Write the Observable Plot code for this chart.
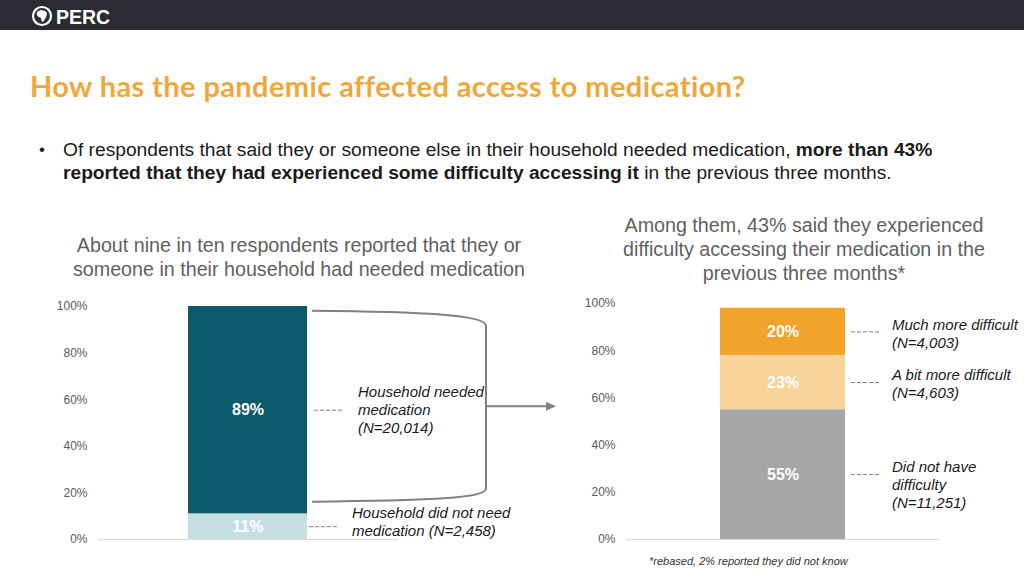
<!DOCTYPE html>
<html>
<head>
<meta charset="utf-8">
<script src="https://cdn.jsdelivr.net/npm/d3@7"></script>
<script src="https://cdn.jsdelivr.net/npm/@observablehq/plot@0.6"></script>
<style>
  html, body { margin: 0; padding: 0; background: #fff; }
  #page { position: relative; width: 1024px; height: 576px; overflow: hidden; background: #fff; font-family: "Liberation Sans", Arial, sans-serif; }
  #header { position: absolute; left: 0; top: 0; width: 1024px; height: 30px; background: #2b2b34; }
  #title { position: absolute; left: 30px; top: 69px; font-family: Lato, "Open Sans", sans-serif; font-weight: bold; font-size: 29px; letter-spacing: 0.4px; line-height: 34px; color: #f0a73a; white-space: nowrap; }
  #bullet { position: absolute; left: 63px; top: 138px; font-size: 19.2px; line-height: 23px; color: #1a1a1a; white-space: nowrap; }
  #bullet .dot { position: absolute; left: -24px; top: 0; font-size: 17px; }
  .sub { position: absolute; font-size: 19.7px; line-height: 24px; color: #5f5f5f; text-align: center; white-space: nowrap; }
  #subL { left: 49px; width: 500px; top: 233px; }
  #subR { left: 584px; width: 440px; top: 213px; }
  #left { position: absolute; left: 0; top: 290px; }
  #right { position: absolute; left: 560px; top: 290px; }
  #foot { position: absolute; left: 649px; top: 554px; font-size: 11px; line-height: 14px; font-style: italic; color: #333; white-space: nowrap; }
</style>
</head>
<body>
<div id="page">
  <div id="header">
    <svg width="140" height="30" style="position:absolute;left:0;top:0">
      <circle cx="42" cy="16" r="9" fill="none" stroke="#fff" stroke-width="2.2"></circle>
      <path d="M37.5,11.5 L41,10 L45,11 L47,13 L46.5,16 L45,19 L43,22 L41.5,21 L41,18 L38.5,17 L36.5,14.5 Z" fill="#fff"></path>
      <text x="56" y="23.5" fill="#fff" font-family="Liberation Sans, Arial, sans-serif" font-weight="bold" font-size="19.5">PERC</text>
    </svg>
  </div>
  <div id="title">How has the pandemic affected access to medication?</div>
  <div id="bullet"><span class="dot">•</span>Of respondents that said they or someone else in their household needed medication, <b>more than 43%</b><br><b>reported that they had experienced some difficulty accessing it</b> in the previous three months.</div>
  <div class="sub" id="subL">About nine in ten respondents reported that they or<br>someone in their household had needed medication</div>
  <div class="sub" id="subR">Among them, 43% said they experienced<br>difficulty accessing their medication in the<br>previous three months*</div>
  <div id="left"></div>
  <div id="right"></div>
  <div id="foot">*rebased, 2% reported they did not know</div>
</div>
<script>
// ---- Data ----
const yTicks = [0, 20, 40, 60, 80, 100];

const leftBar = "All respondents";
const leftCategories = ["Household did not need medication", "Household needed medication"];
const leftValues = [11, 89];
const leftNotes = ["Household did not need\nmedication (N=2,458)", "Household needed\nmedication\n(N=20,014)"];
const leftColors = ["#c4dee2", "#0b5a6b"];

const rightBar = "Needed medication";
const rightCategories = ["Did not have difficulty", "A bit more difficult", "Much more difficult"];
const rightValues = [55, 23, 20];
const rightNotes = ["Did not have\ndifficulty\n(N=11,251)", "A bit more difficult\n(N=4,603)", "Much more difficult\n(N=4,003)"];
const rightColors = ["#a6a6a6", "#f8d49b", "#f0a42c"];

// segment midpoints derived from the values (cumulative stacking)
function withMids(bar, cats, vals, notes) {
  const ends = d3.cumsum(vals);
  return cats.map((k, i) => ({bar, key: k, value: vals[i], note: notes[i], mid: ends[i] - vals[i] / 2}));
}
const leftData = withMids(leftBar, leftCategories, leftValues, leftNotes);
const rightData = withMids(rightBar, rightCategories, rightValues, rightNotes);

const font = "Liberation Sans, Arial, sans-serif";
const dashColor = "#7f7f7f";

function yAxis() {
  return Plot.axisY({ticks: yTicks, tickFormat: d => d + "%", tickSize: 0, tickPadding: 11, fontSize: 12, color: "#5a5a5a", label: null});
}

// bracket + arrow drawn from the scales (left chart)
function bracket(index, scales) {
  const x = scales.x, y = scales.y;
  const bw = x.bandwidth ? x.bandwidth() : 120;
  const r = x(leftBar) + bw;
  const total = d3.sum(leftValues);
  const yTop = y(total - 2);
  const yBot = y(leftValues[0] + 5);
  const x0 = r + 5, x1 = r + 179;
  const ym = (yTop + yBot) / 2;
  const g = d3.create("svg:g");
  g.append("path")
    .attr("d", `M${x0},${yTop} C${x0 + 110},${yTop + 1} ${x1},${yTop + 4} ${x1},${yTop + 15} L${x1},${yBot - 13} C${x1},${yBot - 3} ${x0 + 110},${yBot - 1} ${x0},${yBot}`)
    .attr("fill", "none").attr("stroke", "#808080").attr("stroke-width", 2);
  g.append("path")
    .attr("d", `M${x1},${ym} L${x1 + 62},${ym}`)
    .attr("stroke", "#808080").attr("stroke-width", 2);
  g.append("path")
    .attr("d", `M${x1 + 70},${ym} L${x1 + 60},${ym - 4.5} L${x1 + 60},${ym + 4.5} Z`)
    .attr("fill", "#808080");
  return g.node();
}

const isTop = (d, i) => i === leftData.length - 1;
const isBottom = (d, i) => i === 0;

const left = Plot.plot({
  width: 560, height: 270,
  marginTop: 16, marginBottom: 21, marginLeft: 98, marginRight: 162,
  style: {fontFamily: font, fontSize: "12px", background: "transparent", overflow: "visible"},
  x: {domain: [leftBar], padding: 0.4286, axis: null},
  y: {domain: [0, 100]},
  color: {domain: leftCategories, range: leftColors},
  marks: [
    yAxis(),
    Plot.ruleY([0], {stroke: "#d9d9d9", strokeWidth: 1}),
    Plot.barY(leftData, {x: "bar", y: "value", fill: "key"}),
    Plot.text(leftData, {x: "bar", y: "mid", text: d => d.value + "%", fill: "white", fontWeight: "bold", fontSize: 16}),
    Plot.tickY(leftData.filter(isTop), {x: "bar", y: "mid", stroke: dashColor, strokeDasharray: "4,2", strokeWidth: 1, dx: 126, insetRight: 90}),
    Plot.tickY(leftData.filter(isBottom), {x: "bar", y: "mid", stroke: dashColor, strokeDasharray: "4,2", strokeWidth: 1, dx: 121, insetRight: 89}),
    Plot.text(leftData.filter(isTop), {x: "bar", y: "mid", text: "note", textAnchor: "start", dx: 110, dy: -1, fontStyle: "italic", fontSize: 15, lineHeight: 1.2, fill: "#1a1a1a"}),
    Plot.text(leftData.filter(isBottom), {x: "bar", y: "mid", text: "note", textAnchor: "start", dx: 104, dy: -5, fontStyle: "italic", fontSize: 15, lineHeight: 1.2, fill: "#1a1a1a"}),
    bracket
  ]
});
document.getElementById("left").appendChild(left);

const right = Plot.plot({
  width: 464, height: 270,
  marginTop: 13, marginBottom: 21, marginLeft: 66, marginRight: 84,
  style: {fontFamily: font, fontSize: "12px", background: "transparent", overflow: "visible"},
  x: {domain: [rightBar], padding: 0.4273, axis: null},
  y: {domain: [0, 100]},
  color: {domain: rightCategories, range: rightColors},
  marks: [
    yAxis(),
    Plot.ruleY([0], {stroke: "#d9d9d9", strokeWidth: 1}),
    Plot.barY(rightData, {x: "bar", y: "value", fill: "key"}),
    Plot.text(rightData, {x: "bar", y: "mid", text: d => d.value + "%", fill: "white", fontWeight: "bold", fontSize: 16}),
    Plot.tickY(rightData, {x: "bar", y: "mid", stroke: dashColor, strokeDasharray: "4,2", strokeWidth: 1, dx: 131, insetRight: 96}),
    Plot.text(rightData, {x: "bar", y: "mid", text: "note", textAnchor: "start", lineAnchor: "top", dx: 109, dy: -15, fontStyle: "italic", fontSize: 15, lineHeight: 1.2, fill: "#1a1a1a"})
  ]
});
document.getElementById("right").appendChild(right);
</script>
</body>
</html>
